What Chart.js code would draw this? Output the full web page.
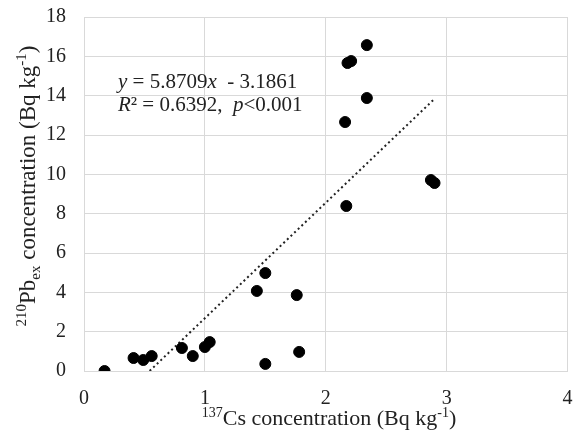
<!DOCTYPE html>
<html>
<head>
<meta charset="utf-8">
<script src="https://cdn.jsdelivr.net/npm/chart.js@4.4.1/dist/chart.umd.min.js"></script>
<style>
  html, body { margin: 0; padding: 0; background: #fff; }
  #wrap { width: 574px; height: 441px; }
</style>
</head>
<body>
<div id="wrap"><canvas id="chart" width="574" height="441"></canvas></div>
<script>
// values
const csValues = [0.17, 0.41, 0.49, 0.56, 0.81, 0.90, 1.00, 1.04, 1.43, 1.50, 1.50, 1.76, 1.78, 2.16, 2.17, 2.18, 2.21, 2.34, 2.34, 2.87, 2.90];
const pbValues = [0.0, 0.66, 0.56, 0.76, 1.17, 0.76, 1.22, 1.47, 4.07, 4.98, 0.36, 3.86, 0.97, 12.66, 8.39, 15.66, 15.76, 16.57, 13.88, 9.71, 9.56];

// regression from the figure
const slope = 5.8709;
const intercept = -3.1861;
const trendRange = [0.543, 2.89];

const xTicks = [0, 1, 2, 3, 4];
const yTicks = [0, 2, 4, 6, 8, 10, 12, 14, 16, 18];

const points = csValues.map((x, i) => ({ x: x, y: pbValues[i] }));
const trend = trendRange.map(x => ({ x: x, y: slope * x + intercept }));

const serif = '"Liberation Serif", "Times New Roman", serif';

// draw text made of pieces (superscripts, subscripts, italics)
function drawPieces(ctx, pieces, x, y, size, align) {
  const fontOf = p => (p.italic ? 'italic ' : '') + Math.round(p.sup || p.sub ? size * 0.65 : size) + 'px ' + serif;
  let total = 0;
  pieces.forEach(p => { ctx.font = fontOf(p); total += ctx.measureText(p.t).width; });
  let cx = align === 'center' ? x - total / 2 : x;
  ctx.textAlign = 'left';
  ctx.textBaseline = 'alphabetic';
  pieces.forEach(p => {
    ctx.font = fontOf(p);
    let dy = 0;
    if (p.sup) dy = -size * 0.38;
    if (p.sub) dy = size * 0.2;
    ctx.fillText(p.t, cx, y + dy);
    cx += ctx.measureText(p.t).width;
  });
}

const textPlugin = {
  id: 'textPlugin',
  afterDraw(chart) {
    const ctx = chart.ctx;
    ctx.save();
    ctx.fillStyle = '#222';

    // x axis title
    drawPieces(ctx, [
      { t: '137', sup: true }, { t: 'Cs concentration (Bq kg' }, { t: '-1', sup: true }, { t: ')' }
    ], 329, 425, 22, 'center');

    // y axis title
    ctx.save();
    ctx.translate(35, 186);
    ctx.rotate(-Math.PI / 2);
    drawPieces(ctx, [
      { t: '210', sup: true }, { t: 'Pb' }, { t: 'ex', sub: true }, { t: ' concentration (Bq kg' }, { t: '-1', sup: true }, { t: ')' }
    ], 0, 0, 23, 'center');
    ctx.restore();

    // equation
    drawPieces(ctx, [
      { t: 'y', italic: true }, { t: ' = 5.8709' }, { t: 'x', italic: true }, { t: '  - 3.1861' }
    ], 118, 88, 21, 'left');
    drawPieces(ctx, [
      { t: 'R', italic: true }, { t: '²' }, { t: ' = 0.6392,  ' }, { t: 'p', italic: true }, { t: '<0.001' }
    ], 118, 111, 21, 'left');
    ctx.restore();
  }
};

new Chart(document.getElementById('chart'), {
  type: 'scatter',
  data: {
    datasets: [
      {
        data: points,
        backgroundColor: '#000',
        borderColor: '#000',
        pointRadius: 5.5,
        pointHoverRadius: 5.5,
        order: 1
      },
      {
        type: 'line',
        data: trend,
        borderColor: '#222',
        borderWidth: 2,
        borderDash: [2, 3],
        pointRadius: 0,
        fill: false,
        order: 2
      }
    ]
  },
  options: {
    responsive: false,
    animation: false,
    events: [],
    layout: { padding: { top: 17, right: 2, left: 0, bottom: 0 } },
    plugins: {
      legend: { display: false },
      tooltip: { enabled: false }
    },
    scales: {
      x: {
        type: 'linear',
        min: 0,
        max: 4,
        afterBuildTicks: s => { s.ticks = xTicks.map(v => ({ value: v })); },
        afterFit: s => { s.height = 70; s.paddingLeft = 0; s.paddingRight = 0; },
        grid: { color: '#d9d9d9', lineWidth: 1, drawTicks: false },
        border: { color: '#d9d9d9' },
        ticks: { padding: 16, color: '#222', font: { family: serif, size: 20 } }
      },
      y: {
        type: 'linear',
        min: 0,
        max: 18,
        afterBuildTicks: s => { s.ticks = yTicks.map(v => ({ value: v })); },
        afterFit: s => { s.width = 84; s.paddingTop = 0; s.paddingBottom = 0; },
        grid: { color: '#d9d9d9', lineWidth: 1, drawTicks: false },
        border: { color: '#d9d9d9' },
        ticks: { padding: 18, color: '#222', font: { family: serif, size: 20 } }
      }
    }
  },
  plugins: [textPlugin]
});
</script>
</body>
</html>
